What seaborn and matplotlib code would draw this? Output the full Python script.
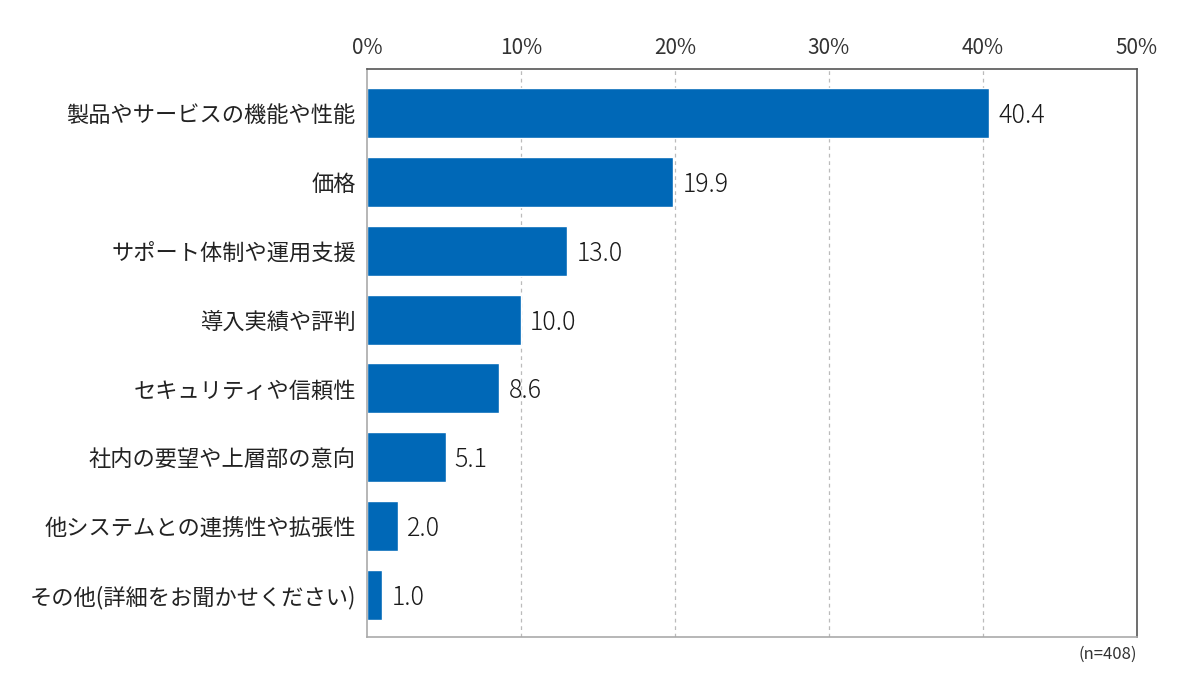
import pandas as pd
import seaborn as sns
import matplotlib.pyplot as plt
from matplotlib.ticker import FuncFormatter

categories = ['製品やサービスの機能や性能', '価格', 'サポート体制や運用支援', '導入実績や評判',
              'セキュリティや信頼性', '社内の要望や上層部の意向', '他システムとの連携性や拡張性',
              'その他(詳細をお聞かせください)']
values = [40.4, 19.9, 13.0, 10.0, 8.6, 5.1, 2.0, 1.0]
xticks = [0, 10, 20, 30, 40, 50]

sns.set_style('white')
plt.rcParams['font.family'] = ['Noto Sans CJK JP', 'DejaVu Sans']

df = pd.DataFrame({'item': categories, 'pct': values})

fig = plt.figure(figsize=(12, 6.98), dpi=100)
ax = fig.add_axes([0.3058, 0.0874, 0.6417, 0.8138])

sns.barplot(data=df, x='pct', y='item', color='#0068b7', saturation=1, width=0.725, ax=ax)

# 値ラベル
for p, v in zip(ax.patches, values):
    ax.text(p.get_width() + 0.6, p.get_y() + p.get_height() / 2 + 0.04, f'{v:.1f}',
            ha='left', va='center', fontsize=18, fontweight='light', color='#1a1a1a')

ax.set_xlim(0, 50)
ax.set_ylim(7.61, -0.64)
ax.set_xticks(xticks)
ax.xaxis.set_major_formatter(FuncFormatter(lambda x, _: f'{int(x)}%'))
ax.xaxis.tick_top()
ax.tick_params(axis='x', length=0, pad=7, labelsize=15, colors='#333333')
ax.tick_params(axis='y', length=0, pad=8, labelsize=16, colors='#222222')
ax.set_xlabel('')
ax.set_ylabel('')

for x in xticks[1:-1]:
    ax.axvline(x, color='#bbbbbb', linestyle=(0, (3, 3)), linewidth=0.9, zorder=0)

for side in ['top', 'right']:
    ax.spines[side].set_color('#555555')
for side in ['left', 'bottom']:
    ax.spines[side].set_color('#aaaaaa')
for s in ax.spines.values():
    s.set_linewidth(1.2)

fig.text(0.9475, 0.062, '(n=408)', ha='right', va='center', fontsize=12, color='#333333')

fig.savefig('out.png', dpi=100)
